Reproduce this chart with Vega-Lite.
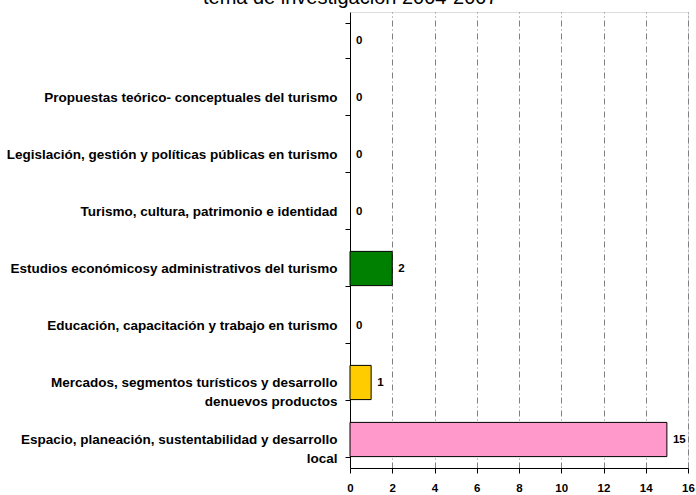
{
  "$schema": "https://vega.github.io/schema/vega-lite/v6.json",
  "autosize": "none",
  "width": 338,
  "height": 456,
  "padding": {"left": 350, "top": 12, "right": 8, "bottom": 27},
  "background": "white",
  "title": {
    "text": "tema de investigación 2004-2007",
    "font": "Liberation Sans",
    "fontSize": 20,
    "fontWeight": "normal",
    "color": "black",
    "anchor": "middle",
    "frame": "bounds",
    "baseline": "alphabetic",
    "offset": 0,
    "dy": 19
  },
  "data": {
    "values": [
      {"tema": " ", "valor": 0, "color": "none"},
      {"tema": "Propuestas teórico- conceptuales del turismo", "valor": 0, "color": "none"},
      {"tema": "Legislación, gestión y políticas públicas en turismo", "valor": 0, "color": "none"},
      {"tema": "Turismo, cultura, patrimonio e identidad", "valor": 0, "color": "none"},
      {"tema": "Estudios económicosy administrativos del turismo", "valor": 2, "color": "#008000"},
      {"tema": "Educación, capacitación y trabajo en turismo", "valor": 0, "color": "none"},
      {"tema": "Mercados, segmentos turísticos  y desarrollo|denuevos productos", "valor": 1, "color": "#FFCC00"},
      {"tema": "Espacio, planeación, sustentabilidad y desarrollo|local", "valor": 15, "color": "#FF99CC"}
    ]
  },
  "encoding": {
    "y": {
      "field": "tema",
      "type": "nominal",
      "sort": null,
      "scale": {"paddingInner": 0.4, "paddingOuter": 0.2},
      "axis": {
        "title": null,
        "labelExpr": "split(datum.label, '|')",
        "labelFont": "Liberation Sans",
        "labelFontSize": 13.5,
        "labelFontWeight": "bold",
        "labelColor": "black",
        "labelLineHeight": 19,
        "labelPadding": 8,
        "labelLimit": 400,
        "tickBand": "extent",
        "tickColor": "black",
        "tickSize": 5,
        "domainColor": "black",
        "grid": false
      }
    },
    "x": {
      "field": "valor",
      "type": "quantitative",
      "scale": {"domain": [0, 16], "nice": false},
      "axis": {
        "title": null,
        "values": [0, 2, 4, 6, 8, 10, 12, 14, 16],
        "labelFont": "Liberation Sans",
        "labelFontSize": 11.5,
        "labelFontWeight": "bold",
        "labelColor": "black",
        "labelPadding": 9,
        "labelFlush": false,
        "tickColor": "black",
        "tickSize": 5,
        "domainColor": "black",
        "grid": true,
        "gridColor": "#808080",
        "gridDash": [6, 3, 1, 3],
        "gridOpacity": {"expr": "datum.value == 0 ? 0 : 1"}
      }
    }
  },
  "layer": [
    {
      "mark": {"type": "bar", "stroke": "black", "strokeWidth": 1},
      "encoding": {
        "color": {"field": "color", "type": "nominal", "scale": null},
        "opacity": {"condition": {"test": "datum.valor == 0", "value": 0}, "value": 1}
      }
    },
    {
      "mark": {"type": "text", "align": "left", "dx": 6, "font": "Liberation Sans", "fontSize": 11.5, "fontWeight": "bold", "color": "black"},
      "encoding": {"text": {"field": "valor", "type": "quantitative"}}
    }
  ]
}
